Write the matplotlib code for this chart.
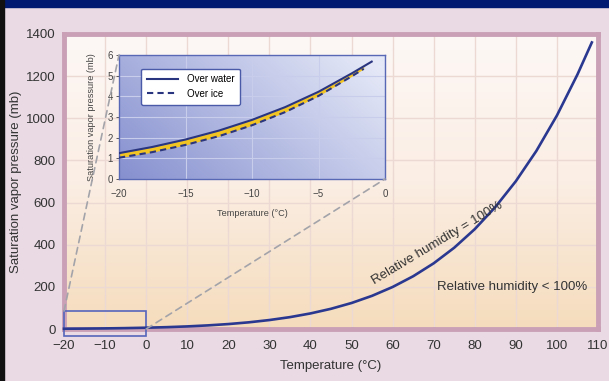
import numpy as np
import matplotlib
matplotlib.use('Agg')
import matplotlib.pyplot as plt
from matplotlib.patches import Rectangle, ConnectionPatch
from matplotlib.colors import to_rgb

plt.rcParams['font.family'] = ['Liberation Sans', 'DejaVu Sans']

# saturation vapour pressure over water (mb)
temp = [-20, -15, -10, -5, 0, 5, 10, 15, 20, 25, 30, 35, 40, 45, 50, 55, 60,
        65, 70, 75, 80, 85, 90, 95, 100, 105, 108.5]
e_water = [1.25, 1.91, 2.86, 4.22, 6.11, 8.72, 12.3, 17.1, 23.4, 31.7, 42.5,
           56.3, 73.9, 95.9, 123.4, 157.5, 199.4, 250.3, 311.8, 385.8, 474.0,
           578.6, 701.4, 845.3, 1013.3, 1208.0, 1360.0]

# inset values (mb)
t_inset_w = [-20, -17.5, -15, -12.5, -10, -7.5, -5, -2.5, -1]
e_inset_w = [1.25, 1.55, 1.91, 2.34, 2.86, 3.48, 4.22, 5.11, 5.68]
t_inset_i = [-20, -17.5, -15, -12.5, -10, -7.5, -5, -2.5, -1.6]
e_inset_i = [1.03, 1.30, 1.65, 2.07, 2.60, 3.24, 4.02, 4.97, 5.33]

xticks = [-20, -10, 0, 10, 20, 30, 40, 50, 60, 70, 80, 90, 100, 110]
yticks = [0, 200, 400, 600, 800, 1000, 1200, 1400]
inset_xticks = [-20, -15, -10, -5, 0]
inset_yticks = [0, 1, 2, 3, 4, 5, 6]

fig = plt.figure(figsize=(6.09, 3.81), dpi=100, facecolor='#e9dae4')
# top band and left strip
fig.patches.append(Rectangle((0, 1 - 7 / 381), 1, 7 / 381, transform=fig.transFigure,
                             color='#001a72', zorder=0))
fig.patches.append(Rectangle((0, 0), 4 / 609, 1, transform=fig.transFigure,
                             color='#111111', zorder=0))

ax = fig.add_axes([64 / 609, 52 / 381, 534 / 609, 295 / 381])
top, mid, bot = map(np.array, (to_rgb('#fdf8f6'), to_rgb('#fbeee4'), to_rgb('#f5dcbc')))
s = np.linspace(0, 1, 200)[:, None]
grad = np.where(s < 0.5, top + (mid - top) * (s / 0.5), mid + (bot - mid) * ((s - 0.5) / 0.5))
ax.imshow(grad.reshape(200, 1, 3), extent=[0, 1, 0, 1], transform=ax.transAxes,
          aspect='auto', zorder=0)
ax.set_xlim(-20, 110)
ax.set_ylim(0, 1400)
ax.set_xticks(xticks)
ax.set_yticks(yticks)
ax.set_xticklabels([str(v).replace('-', '\u2212') for v in xticks])
ax.grid(True, color='#ecd9d3', lw=1, zorder=1)
ax.tick_params(length=0, labelsize=9.5, colors='#333333')
ax.tick_params(axis='x', pad=8)
ax.tick_params(axis='y', pad=6)
for sp in ax.spines.values():
    sp.set_color('#c9a0b6')
    sp.set_linewidth(3.5)
ax.set_xlabel('Temperature (°C)', fontsize=9.5, color='#333333', labelpad=6)
ax.set_ylabel('Saturation vapor pressure (mb)', fontsize=9.5, color='#333333')
ax.yaxis.set_label_coords(-0.078, 0.5)

ax.plot(temp, e_water, color='#2a3890', lw=1.9, zorder=4, clip_on=False)
ax.add_patch(Rectangle((-20, -35), 20, 120, fill=False, ec='#5565bb', lw=1.2,
                       zorder=3, clip_on=False))

ax.text(71, 405, 'Relative humidity = 100%', rotation=31, fontsize=9.5,
        color='#333333', ha='center', va='center', zorder=5)
ax.text(89, 199, 'Relative humidity < 100%', fontsize=9.5, color='#333333',
        ha='center', va='center', zorder=5)

# inset
ins = fig.add_axes([119 / 609, 202 / 381, 266 / 609, 124 / 381])
xx, yy = np.meshgrid(np.linspace(0, 1, 100), np.linspace(1, 0, 60))
tt = np.clip(0.7 * xx + 0.35 * yy, 0, 1)[..., None]
c0, c1 = np.array(to_rgb('#8690cf')), np.array(to_rgb('#e4e8f7'))
ins.imshow(c0 + (c1 - c0) * tt, extent=[0, 1, 0, 1], transform=ins.transAxes,
           aspect='auto', zorder=0)
ins.set_xlim(-20, 0)
ins.set_ylim(0, 6)
ins.set_xticks(inset_xticks)
ins.set_yticks(inset_yticks)
ins.set_xticklabels([str(v).replace('-', '\u2212') for v in inset_xticks])
ins.grid(True, color='#c8cdec', lw=0.8, zorder=1)
ins.tick_params(labelsize=7, colors='#444444', length=2.5, width=0.6, pad=2)
ins.tick_params(axis='x', length=0, pad=7)
for sp in ins.spines.values():
    sp.set_color('#5868b5')
    sp.set_linewidth(1)
ins.set_xlabel('Temperature (°C)', fontsize=6.6, color='#444444')
ins.xaxis.set_label_coords(0.5, -0.245)
ins.set_ylabel('Saturation vapor pressure (mb)', fontsize=6.6, color='#444444')
ins.yaxis.set_label_coords(-0.085, 0.5)

ins.fill_between(t_inset_i, e_inset_i, np.interp(t_inset_i, t_inset_w, e_inset_w),
                 color='#f2c423', zorder=2, lw=0)
ins.plot(t_inset_w, e_inset_w, color='#2a3580', lw=1.5, zorder=3, label='Over water')
ins.plot(t_inset_i, e_inset_i, color='#2a3580', lw=1.5, ls=(0, (3, 2)), zorder=3,
         label='Over ice')
leg = ins.legend(loc='upper left', bbox_to_anchor=(0.065, 0.93), fontsize=7,
                 handlelength=3.2, frameon=True, fancybox=True, borderpad=0.6,
                 labelspacing=0.45, handletextpad=0.9)
leg.get_frame().set_edgecolor('#4a5aa8')
leg.get_frame().set_linewidth(1)
leg.get_frame().set_facecolor('white')
leg.get_frame().set_alpha(1)

# zoom connector lines
for xyA, xyB in [((-20, 85), (0, 1)), ((0, 0), (1, 0))]:
    con = ConnectionPatch(xyA=xyA, coordsA=ax.transData, xyB=xyB, coordsB=ins.transAxes,
                          color='#a3a3aa', lw=1.2, ls=(0, (4, 3)))
    fig.add_artist(con)
    con.set_zorder(0.5)

fig.savefig('out.png', dpi=100, facecolor=fig.get_facecolor())
